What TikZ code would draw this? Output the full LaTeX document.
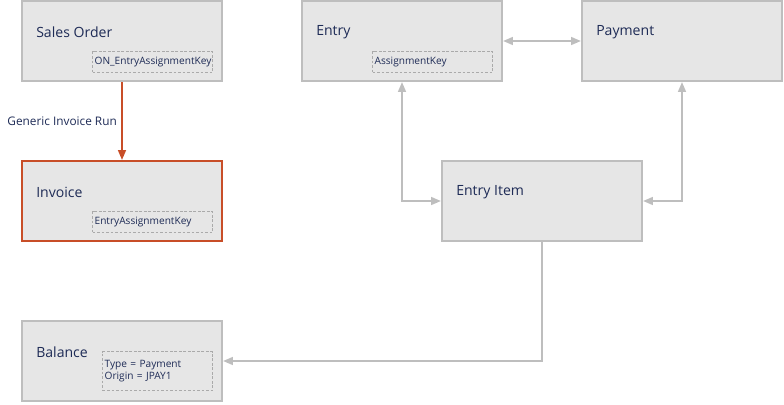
\documentclass[tikz,border=0pt]{standalone}
\usepackage{fontspec}
\setmainfont{Open Sans}
\usetikzlibrary{arrows.meta, positioning, calc}
\definecolor{inktext}{RGB}{30, 43, 86}
\definecolor{boxfill}{RGB}{230, 230, 230}
\definecolor{boxline}{RGB}{190, 190, 190}
\definecolor{keyline}{RGB}{170, 170, 170}
\definecolor{linkgray}{RGB}{190, 190, 190}
\definecolor{flow}{RGB}{200, 78, 40}

\begin{document}
\begin{tikzpicture}[
            x=0.025cm, y=-0.025cm,
            entity/.style={draw=boxline, line width=1.4pt, fill=boxfill, minimum width=5cm, minimum height=2cm, inner sep=0pt},
            title/.style={anchor=west, inner sep=0pt, text=inktext, font=\fontsize{10}{12}\selectfont},
            keybox/.style={draw=keyline, dashed, dash pattern=on 2pt off 1.2pt, line width=0.5pt, anchor=south east, minimum width=3cm, minimum height=0.525cm, inner sep=1.2pt, text width=2.9cm, align=left, text=inktext, font=\fontsize{7.2}{8.8}\selectfont},
            link/.style={draw=linkgray, line width=1.4pt, >={Triangle[length=7pt, width=5.5pt]}},
            flowarrow/.style={draw=flow, line width=1.4pt, ->, >={Triangle[length=7pt, width=5.5pt]}}
        ]
            \useasboundingbox (0,0) rectangle (784,404);

            % entities
            \node[entity] (sales) at (122,41) {};
            \node[entity, draw=flow] (invoice) at (122,201) {};
            \node[entity] (balance) at (122,361) {};
            \node[entity] (entry) at (402,41) {};
            \node[entity] (payment) at (682,41) {};
            \node[entity] (entryitem) at (542,201) {};

            % titles
            \node[title] (salestitle) at ([xshift=0.375cm, yshift=-0.8cm]sales.north west) {Sales Order};
            \node[title] (invoicetitle) at ([xshift=0.375cm, yshift=-0.8cm]invoice.north west) {Invoice};
            \node[title] (balancetitle) at ([xshift=0.375cm, yshift=-0.8cm]balance.north west) {Balance};
            \node[title] (entrytitle) at ([xshift=0.375cm, yshift=-0.8cm]entry.north west) {Entry};
            \node[title] (paymenttitle) at ([xshift=0.375cm, yshift=-0.8cm]payment.north west) {Payment};
            \node[title] (entryitemtitle) at ([xshift=0.375cm, yshift=-0.8cm]entryitem.north west) {Entry Item};

            % keys
            \node[keybox] (saleskey) at ([xshift=-0.25cm, yshift=0.225cm]sales.south east) {ON\_EntryAssignmentKey};
            \node[keybox] (invoicekey) at ([xshift=-0.25cm, yshift=0.225cm]invoice.south east) {EntryAssignmentKey};
            \node[keybox] (entrykey) at ([xshift=-0.25cm, yshift=0.225cm]entry.south east) {AssignmentKey};
            \node[keybox, minimum width=2.75cm, minimum height=0.975cm, text width=2.65cm] (balancekey) at ([xshift=-0.25cm, yshift=0.275cm]balance.south east) {Type = Payment\\Origin = JPAY1};

            % connectors
            \draw[flowarrow] (sales) -- node[left, inner sep=3pt, text=inktext, font=\fontsize{8.4}{10}\selectfont] {Generic Invoice Run} (invoice);
            \draw[link, <->] (entry) -- (payment);
            \draw[link, <->] (entry.south) |- (entryitem.west);
            \draw[link, <->] (payment.south) |- (entryitem.east);
            \draw[link, ->] (entryitem.south) |- (balance.east);
        \end{tikzpicture}
\end{document}
